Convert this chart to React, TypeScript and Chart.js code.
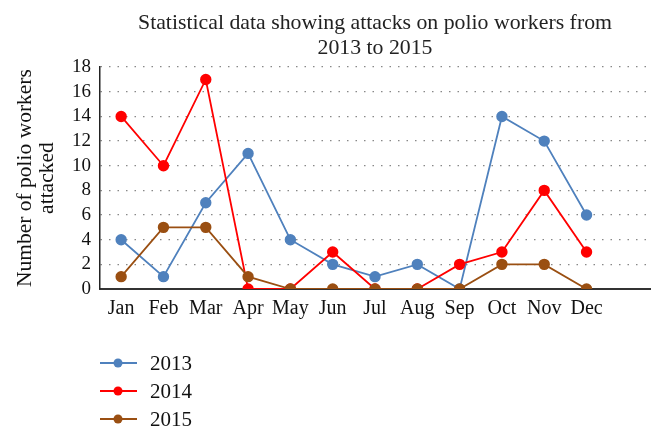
import React, { useEffect, useRef } from "react";
import { Chart, registerables } from "chart.js";

Chart.register(...registerables);

const months = ["Jan", "Feb", "Mar", "Apr", "May", "Jun", "Jul", "Aug", "Sep", "Oct", "Nov", "Dec", ""];
const series2013 = [4, 1, 7, 11, 4, 2, 1, 2, 0, 14, 12, 6];
const series2014 = [14, 10, 17, 0, 0, 3, 0, 0, 2, 3, 8, 3];
const series2015 = [1, 5, 5, 1, 0, 0, 0, 0, 0, 2, 2, 0];
const seriesNames = ["2013", "2014", "2015"];
const seriesColors = ["#4f81bd", "#ff0000", "#9a4f12"];
const titleLines = ["Statistical data showing attacks on polio workers from", "2013 to 2015"];
const yTitleLines = ["Number of polio workers", "attacked"];

const FONT = "'Liberation Serif', 'DejaVu Serif', serif";

const legendPlugin = {
  id: "vertLegend",
  afterDraw(chart: any) {
    const ctx = chart.ctx;
    ctx.save();
    chart.data.datasets.forEach((ds: any, i: number) => {
      const y = 363 + i * 28;
      ctx.strokeStyle = ds.borderColor;
      ctx.lineWidth = 2;
      ctx.beginPath();
      ctx.moveTo(100, y);
      ctx.lineTo(137, y);
      ctx.stroke();
      ctx.fillStyle = ds.backgroundColor;
      ctx.beginPath();
      ctx.arc(118, y, 4.5, 0, Math.PI * 2);
      ctx.fill();
      ctx.fillStyle = "#111";
      ctx.font = "21px " + FONT;
      ctx.textBaseline = "middle";
      ctx.textAlign = "left";
      ctx.fillText(ds.label, 150, y + 1);
    });
    ctx.restore();
  },
};

export default function App() {
  const ref = useRef<HTMLCanvasElement>(null);
  useEffect(() => {
    if (!ref.current) return;
    const data = [series2013, series2014, series2015];
    const chart = new Chart(ref.current, {
      type: "line",
      data: {
        labels: months,
        datasets: data.map((d, i) => ({
          label: seriesNames[i],
          data: d,
          borderColor: seriesColors[i],
          backgroundColor: seriesColors[i],
          pointBackgroundColor: seriesColors[i],
          pointBorderColor: seriesColors[i],
          pointRadius: 4.8,
          borderWidth: 1.8,
          tension: 0,
          order: 2 - i,
        })),
      },
      options: {
        animation: false,
        responsive: false,
        maintainAspectRatio: false,
        layout: { padding: { left: 15, right: 14, top: 0, bottom: 109 } },
        plugins: {
          legend: { display: false },
          tooltip: { enabled: false },
          title: {
            display: true,
            text: titleLines,
            fullSize: false,
            color: "#222",
            font: { family: FONT, size: 21.8, weight: "normal", lineHeight: 1.15 },
            padding: { top: 11, bottom: 6 },
          },
        },
        scales: {
          x: {
            offset: true,
            grid: { color: "transparent", drawTicks: false, offset: false },
            border: { display: true, color: "#333", width: 2 },
            ticks: {
              color: "#111",
              font: { family: FONT, size: 20 },
              padding: 8,
              maxRotation: 0,
              autoSkip: false,
            },
          },
          y: {
            min: 0,
            max: 18,
            afterFit: (scale: any) => {
              scale.width = 85;
            },
            grid: {
              color: "#888",
              lineWidth: 1.3,
              drawTicks: false,
            },
            border: { display: true, color: "#222", width: 1.5, dash: [1.5, 7] },
            ticks: {
              stepSize: 2,
              autoSkip: false,
              color: "#111",
              font: { family: FONT, size: 19 },
              padding: 9,
            },
            title: {
              display: true,
              text: yTitleLines,
              color: "#111",
              font: { family: FONT, size: 21.5, lineHeight: 1.0 },
              padding: { top: 0, bottom: 4 },
            },
          },
        },
      },
      plugins: [legendPlugin],
    } as any);
    return () => chart.destroy();
  }, []);
  return (
    <div style={{ position: "fixed", left: 0, top: 0, width: 664, height: 438, background: "#fff" }}>
      <canvas ref={ref} width={664} height={438} style={{ width: 664, height: 438 }} />
    </div>
  );
}
